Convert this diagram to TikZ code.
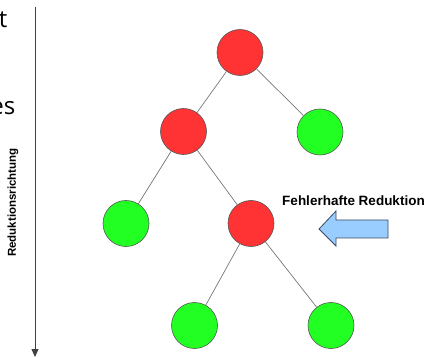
\documentclass[tikz,border=0pt]{standalone}
\usepackage{fontspec}
\setmainfont{Liberation Sans}
\newfontfamily\slidefont{Open Sans}
\usetikzlibrary{arrows.meta}
\definecolor{nodered}{HTML}{FF3333}
\definecolor{nodegreen}{HTML}{22FF22}
\definecolor{ringgray}{HTML}{555555}
\definecolor{edgegray}{HTML}{777777}
\definecolor{arrowfill}{HTML}{99CCFF}
\definecolor{arrowline}{HTML}{3B4A5C}
\tikzset{
  treenode/.style={circle, minimum size=46pt, inner sep=0pt, draw=ringgray, line width=0.6pt},
  bad/.style={treenode, fill=nodered},
  good/.style={treenode, fill=nodegreen},
  edge/.style={draw=edgegray, line width=0.7pt},
  label/.style={font=\bfseries\fontsize{13.5}{16}\selectfont, inner sep=0pt},
}
\begin{document}
\begin{tikzpicture}[x=1pt, y=-1pt]
  \useasboundingbox (0,0) rectangle (434,358);

  % fragments of slide text at the left margin
  \node[anchor=base east, inner sep=0pt, font=\slidefont\fontsize{24}{28}\selectfont] (frag1) at (7.5,28) {t};
  \node[anchor=base east, inner sep=0pt, font=\slidefont\fontsize{24}{28}\selectfont] (frag2) at (15.5,115) {es};

  % direction axis
  \coordinate (axtop) at (35,7);
  \coordinate (axbot) at (35,357);
  \draw[draw=black!75, line width=0.8pt, -{Triangle[width=7pt,length=8pt]}] (axtop) -- (axbot);
  \node[label, font=\bfseries\fontsize{11.5}{14}\selectfont, rotate=90] (dir) at (13,202.5) {Reduktionsrichtung};

  % tree
  \node[bad]  (root) at (240,52.5) {};
  \node[bad]  (l)    at (183.5,131.5) {};
  \node[good] (r)    at (320,132) {};
  \node[good] (ll)   at (126,223.5) {};
  \node[bad]  (lr)   at (251,223.5) {};
  \node[good] (lrl)  at (194.5,325.5) {};
  \node[good] (lrr)  at (331,325.5) {};

  \draw[edge] (root) -- (l);
  \draw[edge] (root) -- (r);
  \draw[edge] (l) -- (ll);
  \draw[edge] (l) -- (lr);
  \draw[edge] (lr) -- (lrl);
  \draw[edge] (lr) -- (lrr);

  % marker for the faulty step
  \node[label] (err) at (353.5,201) {Fehlerhafte Reduktion};
  \draw[fill=arrowfill, draw=arrowline, line width=0.8pt, line join=miter]
    (319,229) -- (336,211) -- (336,220) -- (388,220) -- (388,238)
    -- (336,238) -- (336,246) -- cycle;
\end{tikzpicture}
\end{document}
